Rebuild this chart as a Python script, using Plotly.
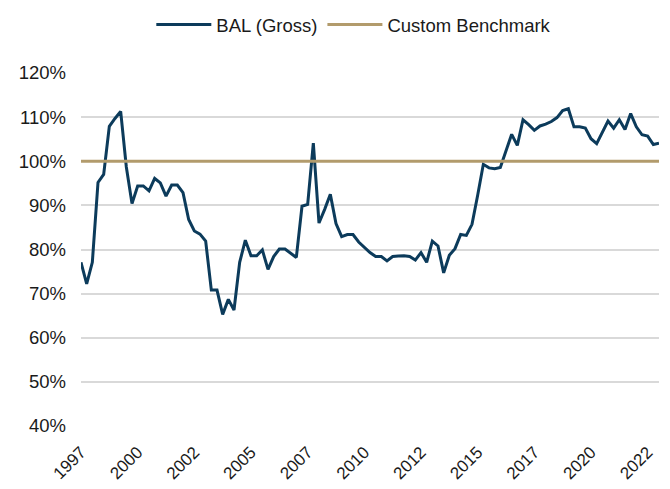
import plotly.graph_objects as go

# Quarterly observations, 1997 Q1 onward (percent)
bal_gross = [
    77.1, 72.2, 77.1, 95.2, 97.0, 107.9, 109.7, 111.3, 98.7, 90.4,
    94.4, 94.4, 93.3, 96.1, 95.1, 92.1, 94.6, 94.6, 92.9, 86.8,
    84.2, 83.5, 81.9, 70.8, 70.8, 65.3, 68.7, 66.3, 77.1, 82.1,
    78.6, 78.6, 79.9, 75.5, 78.4, 80.1, 80.1, 79.1, 78.2, 89.8,
    90.2, 104.1, 86.0, 89.1, 92.5, 85.9, 82.9, 83.4, 83.4, 81.7,
    80.4, 79.3, 78.4, 78.4, 77.4, 78.4, 78.5, 78.6, 78.4, 77.6,
    79.3, 77.1, 81.9, 80.8, 74.7, 78.7, 80.2, 83.4, 83.2, 85.7,
    92.3, 99.3, 98.5, 98.3, 98.6, 102.3, 106.1, 103.6, 109.4, 108.3,
    107.0, 108.0, 108.4, 109.0, 109.9, 111.5, 111.9, 107.8, 107.8, 107.5,
    105.1, 104.0, 106.6, 109.1, 107.5, 109.4, 107.2, 110.8, 107.8, 106.0,
    105.7, 103.8, 104.1,
]
benchmark_level = 100
x_tick_labels = ["1997", "2000", "2002", "2005", "2007", "2010",
                 "2012", "2015", "2017", "2020", "2022"]
label_every = 10

x_idx = list(range(len(bal_gross)))
benchmark = [benchmark_level] * len(bal_gross)
tick_positions = [i * label_every for i in range(len(x_tick_labels))]

navy = "#0C3B5B"
tan = "#B29B6C"
font_family = "Liberation Sans, Arial, sans-serif"

fig = go.Figure()
fig.add_trace(go.Scatter(
    x=x_idx, y=bal_gross, mode="lines", name="BAL (Gross)",
    line=dict(color=navy, width=3),
))
fig.add_trace(go.Scatter(
    x=x_idx, y=benchmark, mode="lines", name="Custom Benchmark",
    line=dict(color=tan, width=3),
))

# page body has an 8px default margin; figure fills the window to its right/bottom edge
fig.update_layout(
    width=662, height=481,
    margin=dict(l=73, r=11, t=65, b=63, autoexpand=False),
    paper_bgcolor="white", plot_bgcolor="white",
    font=dict(family=font_family, size=17, color="#1a1a1a"),
    showlegend=True,
    legend=dict(orientation="h", x=0.472, xanchor="center", y=1.136, yanchor="middle",
                font=dict(size=18.5), itemwidth=55, traceorder="normal",
                bgcolor="rgba(0,0,0,0)"),
)
fig.update_xaxes(
    range=[0, len(bal_gross) - 1],
    tickmode="array", tickvals=tick_positions, ticktext=x_tick_labels,
    tickangle=-45, showgrid=False, zeroline=False, showline=False,
    ticks="", ticklabelstandoff=12, automargin=False,
    tickfont=dict(size=17),
)
fig.update_yaxes(
    range=[40, 120], dtick=10, ticksuffix="%",
    showgrid=True, gridcolor="#D9D9D9", gridwidth=1.5,
    zeroline=False, showline=False, ticks="", ticklabelstandoff=14,
    automargin=False,
    tickfont=dict(size=18.5),
)

fig.write_html("out.html")
